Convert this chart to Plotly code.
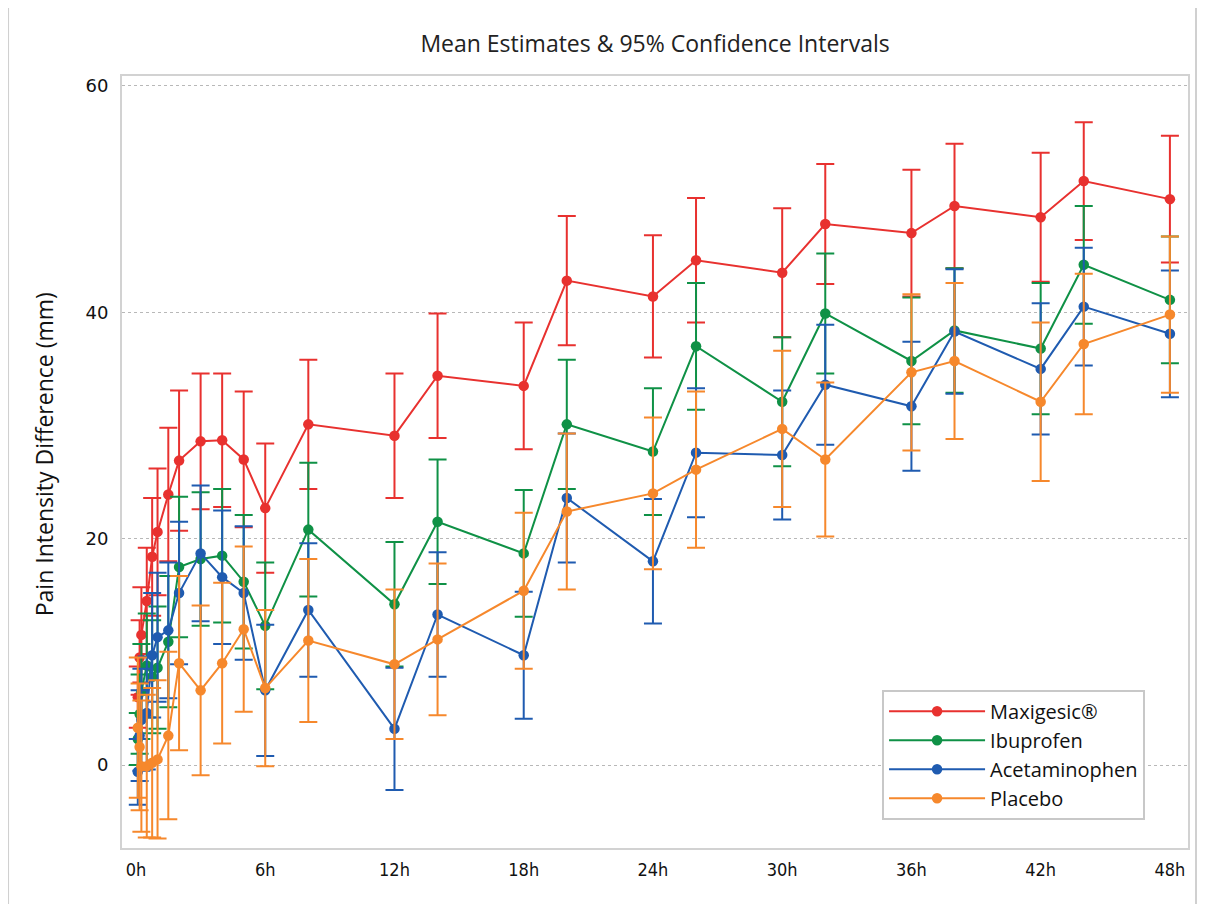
import plotly.graph_objects as go

hours = [0.083, 0.167, 0.25, 0.5, 0.75, 1, 1.5, 2, 3, 4, 5, 6, 8, 12, 14, 18, 20, 24, 26, 30, 32, 36, 38, 42, 44, 48]

maxigesic = [6.0, 9.5, 11.5, 14.5, 18.4, 20.6, 23.9, 26.9, 28.6, 28.7, 27.0, 22.7, 30.1, 29.1, 34.4, 33.5, 42.8, 41.4, 44.6, 43.5, 47.8, 47.0, 49.4, 48.4, 51.6, 50.0]
maxigesic_ci = [2.7, 3.3, 4.2, 4.7, 5.2, 5.6, 5.9, 6.2, 6.0, 5.9, 6.0, 5.7, 5.7, 5.5, 5.5, 5.6, 5.7, 5.4, 5.5, 5.7, 5.3, 5.6, 5.5, 5.7, 5.2, 5.6]

ibuprofen = [2.3, 4.5, 6.5, 8.8, 7.8, 8.6, 10.9, 17.5, 18.2, 18.5, 16.2, 12.3, 20.8, 14.2, 21.5, 18.7, 30.1, 27.7, 37.0, 32.1, 39.9, 35.7, 38.4, 36.8, 44.2, 41.1]
ibuprofen_ci = [2.3, 3.5, 4.2, 4.6, 5.0, 5.4, 5.8, 6.2, 5.9, 5.9, 5.9, 5.6, 5.9, 5.5, 5.5, 5.6, 5.7, 5.6, 5.6, 5.7, 5.3, 5.6, 5.5, 5.8, 5.2, 5.6]

acetaminophen = [-0.6, 2.6, 4.0, 4.6, 9.7, 11.3, 11.9, 15.2, 18.7, 16.6, 15.2, 6.6, 13.7, 3.2, 13.3, 9.7, 23.6, 18.0, 27.6, 27.4, 33.6, 31.7, 38.3, 35.0, 40.5, 38.1]
acetaminophen_ci = [2.9, 4.0, 4.5, 5.0, 5.5, 5.7, 6.0, 6.3, 6.0, 5.9, 5.9, 5.8, 5.9, 5.4, 5.5, 5.6, 5.7, 5.5, 5.7, 5.7, 5.3, 5.7, 5.5, 5.8, 5.2, 5.6]

placebo = [3.3, 1.6, -0.1, -0.1, 0.2, 0.5, 2.6, 9.0, 6.6, 9.0, 12.0, 6.8, 11.0, 8.9, 11.1, 15.4, 22.4, 24.0, 26.1, 29.7, 27.0, 34.7, 35.7, 32.1, 37.2, 39.8]
placebo_ci = [6.2, 5.6, 5.8, 6.3, 6.6, 7.0, 7.4, 7.7, 7.5, 7.1, 7.3, 6.9, 7.2, 6.6, 6.7, 6.9, 6.9, 6.7, 6.9, 6.9, 6.8, 6.9, 6.9, 7.0, 6.2, 6.9]

series_names = ["Maxigesic®", "Ibuprofen", "Acetaminophen", "Placebo"]
series_values = [maxigesic, ibuprofen, acetaminophen, placebo]
series_ci = [maxigesic_ci, ibuprofen_ci, acetaminophen_ci, placebo_ci]
series_colors = ["#e8312f", "#0f9146", "#1f5bb0", "#f6882c"]

tick_vals = [0, 6, 12, 18, 24, 30, 36, 42, 48]
tick_text = ["0h", "6h", "12h", "18h", "24h", "30h", "36h", "42h", "48h"]

fig = go.Figure()
for name, vals, ci, col in zip(series_names, series_values, series_ci, series_colors):
    fig.add_trace(go.Scatter(
        x=hours, y=vals, name=name, mode="lines+markers",
        line=dict(color=col, width=2),
        marker=dict(color=col, size=10.5),
        error_y=dict(type="data", array=ci, visible=True, color=col, thickness=2, width=9),
    ))

fig.update_layout(
    width=1205, height=904,
    margin=dict(l=114, r=25, t=68, b=64),
    paper_bgcolor="white", plot_bgcolor="white",
    title=dict(text="Mean Estimates & 95% Confidence Intervals", x=0.537, xanchor="center",
               y=1 - 36 / 904, yanchor="middle",
               font=dict(family="Open Sans", size=23, color="#222222")),
    showlegend=True,
    legend=dict(x=0.713, y=0.205, xanchor="left", yanchor="top",
                bgcolor="white", bordercolor="#c8c8c8", borderwidth=2,
                font=dict(family="Open Sans", size=20, color="#111111"),
                itemwidth=96, tracegroupgap=0),
    font=dict(family="DejaVu Sans", color="#222222"),
    shapes=[
        dict(type="line", xref="paper", yref="paper", x0=-0.1069, x1=-0.1069, y0=-0.2, y1=1.2,
             line=dict(color="#d0d0d0", width=2), layer="below"),
        dict(type="line", xref="paper", yref="paper", x0=1.0075, x1=1.0075, y0=-0.2, y1=1.2,
             line=dict(color="#d0d0d0", width=2), layer="below"),
    ],
    annotations=[
        dict(text="Pain Intensity Difference (mm)", xref="paper", yref="paper",
             x=-0.0732, y=0.51, xanchor="center", yanchor="middle", textangle=-90,
             showarrow=False, font=dict(family="Open Sans", size=23, color="#111111")),
    ],
)

fig.update_xaxes(range=[-0.65, 48.84], tickvals=tick_vals, ticktext=tick_text,
                 showgrid=False, zeroline=False, showline=True, mirror=True,
                 linecolor="#d2d2d2", linewidth=2, ticks="", ticklabelstandoff=4,
                 tickfont=dict(family="DejaVu Sans Condensed", size=18, color="#111111"))
fig.update_yaxes(range=[-7.33, 60.88], tickvals=[0, 20, 40, 60],
                 showgrid=True, gridcolor="#b8b8b8", griddash="dot", gridwidth=1,
                 zeroline=False, showline=True, mirror=True,
                 linecolor="#d2d2d2", linewidth=2, ticks="", ticklabelstandoff=8,
                 tickfont=dict(family="DejaVu Sans", size=18, color="#111111"))

fig.write_html("out.html")
